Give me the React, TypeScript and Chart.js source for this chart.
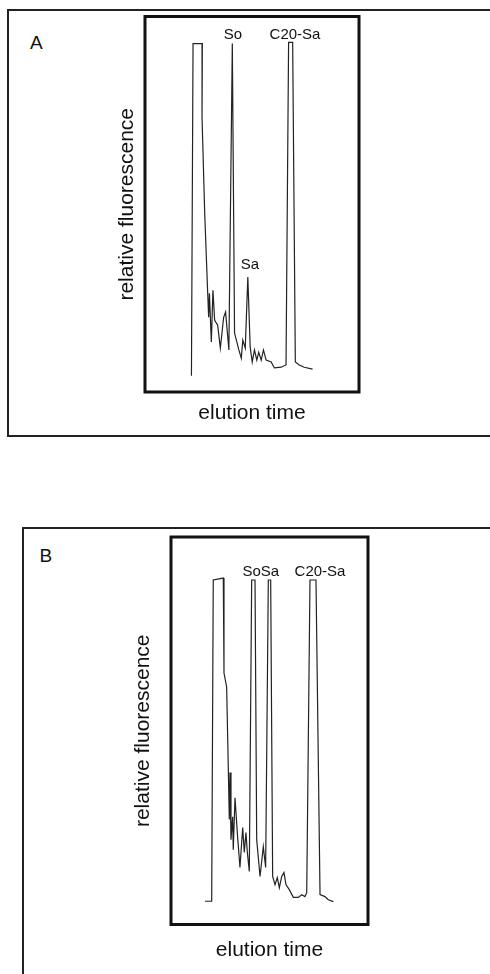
import React, { useEffect, useRef } from "react";
import { Chart, registerables } from "chart.js";

Chart.register(...registerables);

// ---- Panel A: elution time (arbitrary units 0-20) vs relative fluorescence (0-100)
const panelATime = [
  4.34, 4.49, 5.36, 5.33, 5.58, 5.86, 5.95, 6.02, 6.2, 6.35, 6.51, 6.79, 7.04, 7.35, 7.53,
  7.84, 8.16, 8.37, 8.77, 9.0, 9.14, 9.37, 9.61, 9.83, 10.02, 10.23, 10.45, 10.63, 10.86,
  11.07, 11.32, 11.79, 12.09, 12.72, 13.18, 13.42, 13.8, 14.05, 14.42, 14.88, 15.66,
];
const panelASignal = [
  4.3, 92.8, 92.8, 73.1, 47.6, 26.3, 19.9, 26.3, 13.3, 27.1, 19.1, 17.8, 11.7, 19.9, 21.3,
  11.2, 92.8, 15.7, 11.2, 9.0, 13.8, 11.7, 30.6, 12.0, 8.0, 11.2, 8.5, 10.6, 8.5,
  11.2, 8.5, 8.0, 6.4, 6.6, 7.2, 93.1, 93.1, 8.0, 7.2, 6.6, 6.1,
];
const panelAPeakNames = ["So", "Sa", "C20-Sa"];
const panelAPeakTime = [8.22, 9.81, 14.02];
const panelAPeakLevel = [95.2, 33.9, 95.2];

// ---- Panel B
const panelBTime = [
  3.45, 4.13, 4.29, 5.31, 5.38, 5.65, 5.82, 5.92, 5.99, 6.09, 6.26, 6.32, 6.5, 6.73, 7.0,
  7.28, 7.44, 7.61, 7.75, 7.95, 8.19, 8.53, 8.7, 9.04, 9.37, 9.61, 9.88, 10.12, 10.32,
  10.56, 10.79, 11.0, 11.24, 11.47, 11.67, 12.01, 12.42, 12.92, 13.27, 13.6, 13.78, 14.11,
  14.72, 15.13, 15.63, 15.97, 16.48,
];
const panelBSignal = [
  6.0, 6.0, 88.9, 89.4, 64.9, 61.3, 39.9, 27.1, 39.2, 21.9, 27.8, 19.3, 32.7, 23.7, 14.7,
  25.0, 18.6, 23.7, 18.6, 13.7, 88.9, 88.9, 21.9, 12.4, 20.1, 14.7, 88.9, 88.9, 12.4,
  10.3, 12.1, 9.5, 12.4, 13.4, 10.3, 9.0, 7.0, 7.0, 7.7, 7.2, 8.2, 88.9,
  88.9, 7.7, 7.2, 6.4, 5.9,
];
const panelBPeakNames = ["SoSa", "C20-Sa"];
const panelBPeakTime = [9.12, 15.13];
const panelBPeakLevel = [91.1, 91.1];

const xTitle = "elution time";
const yTitle = "relative fluorescence";

const FONT = '"Liberation Sans", Arial, Helvetica, sans-serif';
const INK = "#111";

const framePlugin = {
  id: "plotFrame",
  afterDraw(chart: any) {
    const { ctx, chartArea } = chart;
    ctx.save();
    ctx.lineWidth = 3;
    ctx.strokeStyle = INK;
    ctx.strokeRect(chartArea.left, chartArea.top, chartArea.right - chartArea.left, chartArea.bottom - chartArea.top);
    ctx.restore();
  },
};

function makePeakLabelPlugin(names: string[], times: number[], levels: number[]) {
  return {
    id: "peakLabels",
    afterDatasetsDraw(chart: any) {
      const { ctx, scales } = chart;
      ctx.save();
      ctx.fillStyle = INK;
      ctx.font = `15px ${FONT}`;
      ctx.textAlign = "center";
      ctx.textBaseline = "middle";
      names.forEach((n, i) => {
        ctx.fillText(n, scales.x.getPixelForValue(times[i]), scales.y.getPixelForValue(levels[i]));
      });
      ctx.restore();
    },
  };
}

type PanelProps = {
  times: number[];
  signal: number[];
  names: string[];
  peakTimes: number[];
  peakLevels: number[];
  width: number;
  height: number;
  padding: { left: number; right: number; top: number; bottom: number };
  yTitlePad: { top: number; bottom: number };
  xTitlePad: { top: number; bottom: number };
  style: React.CSSProperties;
};

function ChromChart(p: PanelProps) {
  const ref = useRef<HTMLCanvasElement | null>(null);
  useEffect(() => {
    if (!ref.current) return;
    const chart = new Chart(ref.current, {
      type: "line",
      data: {
        datasets: [
          {
            data: p.times.map((t, i) => ({ x: t, y: p.signal[i] })),
            borderColor: "#222",
            borderWidth: 1.2,
            pointRadius: 0,
            tension: 0,
            fill: false,
          },
        ],
      },
      options: {
        responsive: false,
        animation: false,
        events: [],
        layout: { padding: p.padding },
        plugins: { legend: { display: false }, tooltip: { enabled: false } },
        scales: {
          x: {
            type: "linear",
            min: 0,
            max: 20,
            ticks: { display: false },
            grid: { display: false, drawTicks: false },
            border: { display: false },
            title: {
              display: true,
              text: xTitle,
              color: INK,
              font: { family: FONT, size: 21, lineHeight: 1.2 },
              padding: p.xTitlePad,
            },
          },
          y: {
            type: "linear",
            min: 0,
            max: 100,
            ticks: { display: false },
            grid: { display: false, drawTicks: false },
            border: { display: false },
            title: {
              display: true,
              text: yTitle,
              color: INK,
              font: { family: FONT, size: 21, lineHeight: 1.2 },
              padding: p.yTitlePad,
            },
          },
        },
      },
      plugins: [framePlugin, makePeakLabelPlugin(p.names, p.peakTimes, p.peakLevels)],
    } as any);
    return () => chart.destroy();
  }, []);
  return <canvas ref={ref} width={p.width} height={p.height} style={{ position: "absolute", ...p.style }} />;
}

export default function App() {
  const letter: React.CSSProperties = {
    position: "absolute",
    fontFamily: FONT,
    fontSize: 19,
    lineHeight: "19px",
    color: INK,
  };
  return (
    <div style={{ position: "absolute", left: 0, top: 0, width: 490, height: 974, overflow: "hidden", background: "#fff" }}>
      {/* Panel A outer frame */}
      <div
        style={{
          position: "absolute",
          left: 7,
          top: 9,
          width: 520,
          height: 428,
          boxSizing: "border-box",
          borderTop: "2px solid #222",
          borderLeft: "2px solid #222",
          borderBottom: "2px solid #222",
        }}
      />
      <div style={{ ...letter, left: 30, top: 32.5 }}>A</div>
      <ChromChart
        times={panelATime}
        signal={panelASignal}
        names={panelAPeakNames}
        peakTimes={panelAPeakTime}
        peakLevels={panelAPeakLevel}
        width={280}
        height={420}
        padding={{ left: 0, right: 21, top: 4.5, bottom: 5.9 }}
        yTitlePad={{ top: 14.4, bottom: 5.4 }}
        xTitlePad={{ top: 8.9, bottom: 0 }}
        style={{ left: 100, top: 12 }}
      />

      {/* Panel B outer frame */}
      <div
        style={{
          position: "absolute",
          left: 22,
          top: 527,
          width: 520,
          height: 500,
          boxSizing: "border-box",
          borderTop: "2px solid #222",
          borderLeft: "2px solid #222",
        }}
      />
      <div style={{ ...letter, left: 39.5, top: 545.5 }}>B</div>
      <ChromChart
        times={panelBTime}
        signal={panelBSignal}
        names={panelBPeakNames}
        peakTimes={panelBPeakTime}
        peakLevels={panelBPeakLevel}
        width={280}
        height={442}
        padding={{ left: 0, right: 22, top: 5, bottom: 11.4 }}
        yTitlePad={{ top: 20.9, bottom: 14.9 }}
        xTitlePad={{ top: 12.9, bottom: 0 }}
        style={{ left: 110, top: 532 }}
      />
    </div>
  );
}
